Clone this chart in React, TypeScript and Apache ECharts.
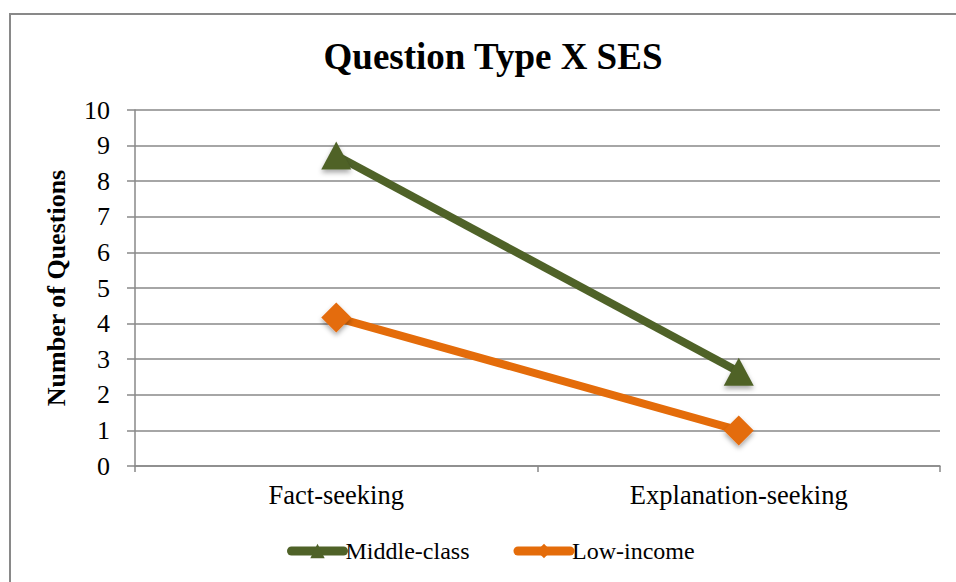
import React, { useEffect, useRef } from "react";
import * as echarts from "echarts";

const categories = ["Fact-seeking", "Explanation-seeking"];
const middleClass = [8.72, 2.65];
const lowIncome = [4.17, 1.0];
const yTicks = { min: 0, max: 10, interval: 1 };

const SERIF = "Liberation Serif";
const GRID = "#898989";

export default function App() {
  const ref = useRef<HTMLDivElement>(null);
  useEffect(() => {
    if (!ref.current) return;
    const chart = echarts.init(ref.current, null, { renderer: "svg" });
    chart.setOption({
      animation: false,
      backgroundColor: "#fff",
      title: {
        text: "Question Type X SES",
        left: 488,
        top: 33,
        textAlign: "center",
        textStyle: { fontFamily: SERIF, fontSize: 37, fontWeight: "bold", color: "#000" },
      },
      graphic: [
        {
          type: "rect",
          shape: { x: 10, y: 14, width: 1000, height: 700 },
          style: { fill: "none", stroke: GRID, lineWidth: 2 },
          silent: true,
        },
      ],
      legend: {
        left: 282,
        top: 534,
        itemWidth: 52,
        itemHeight: 18,
        itemGap: 44,
        lineStyle: { width: 9, cap: "round" },
        textStyle: { fontFamily: SERIF, fontSize: 24, color: "#000", padding: [0, 0, 0, -3] },
        data: ["Middle-class", "Low-income"],
      },
      grid: { left: 135, right: 16, top: 110, bottom: 116, containLabel: false },
      xAxis: {
        type: "category",
        data: categories,
        boundaryGap: true,
        axisLine: { lineStyle: { color: GRID, width: 1.5 } },
        axisTick: { show: true, length: 6, lineStyle: { color: GRID, width: 1.5 } },
        axisLabel: { fontFamily: SERIF, fontSize: 26.5, color: "#000", margin: 15 },
      },
      yAxis: {
        type: "value",
        min: yTicks.min,
        max: yTicks.max,
        interval: yTicks.interval,
        name: "Number of Questions",
        nameLocation: "middle",
        nameGap: 66,
        nameTextStyle: { fontFamily: SERIF, fontSize: 26, fontWeight: "bold", color: "#000" },
        axisLine: { show: true, lineStyle: { color: GRID, width: 1.5 } },
        axisTick: { show: true, length: 8, lineStyle: { color: GRID, width: 1.5 } },
        axisLabel: { fontFamily: SERIF, fontSize: 26, color: "#000", margin: 25 },
        splitLine: { lineStyle: { color: GRID, width: 1.5 } },
      },
      series: [
        {
          name: "Middle-class",
          type: "line",
          data: middleClass,
          symbol: "triangle",
          symbolSize: [30, 28],
          color: "#4F6228",
          lineStyle: { width: 8, color: "#4F6228" },
          itemStyle: {
            color: "#4F6228",
            shadowColor: "rgba(0,0,0,0.35)",
            shadowBlur: 5,
            shadowOffsetY: 3,
          },
          z: 3,
        },
        {
          name: "Low-income",
          type: "line",
          data: lowIncome,
          symbol: "diamond",
          symbolSize: [30, 30],
          color: "#E46C0A",
          lineStyle: { width: 8, color: "#E46C0A" },
          itemStyle: {
            color: "#E46C0A",
            shadowColor: "rgba(0,0,0,0.35)",
            shadowBlur: 5,
            shadowOffsetY: 3,
          },
          z: 3,
        },
      ],
    });
    return () => chart.dispose();
  }, []);
  return (
    <div
      ref={ref}
      style={{ position: "absolute", left: 0, top: 0, width: 956, height: 582 }}
    />
  );
}
